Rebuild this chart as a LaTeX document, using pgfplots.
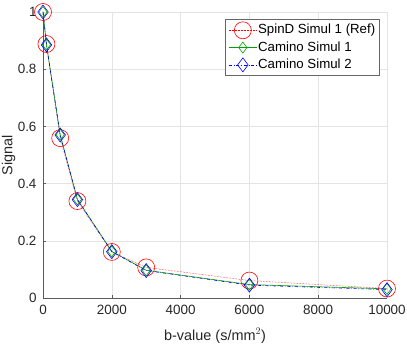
\documentclass[border=0pt]{standalone}
\usepackage{fontspec}
\setmainfont{Liberation Sans}
\usepackage{pgfplots}
\pgfplotsset{compat=1.18}
\definecolor{axgray}{RGB}{90,90,90}
\definecolor{gridgray}{RGB}{228,228,228}
\definecolor{mred}{RGB}{255,0,0}
\definecolor{mgreen}{RGB}{0,160,0}
\definecolor{mblue}{RGB}{0,0,255}
\begin{document}
\begin{tikzpicture}[x=1bp,y=1bp]
\begin{axis}[
  at={(0bp,0bp)}, anchor=origin,
  scale only axis,
  width=344bp, height=286bp,
  xmin=0, xmax=10000, ymin=0, ymax=1,
  xtick={0,2000,4000,6000,8000,10000},
  ytick={0,0.2,0.4,0.6,0.8,1},
  scaled x ticks=false,
  /pgf/number format/1000 sep={},
  /pgf/number format/assume math mode=true,
  axis lines*=left,
  axis line style={axgray, line width=0.5pt},
  tick style={axgray, line width=0.5pt},
  tick align=inside,
  major tick length=3bp,
  grid=major,
  major grid style={gridgray, line width=0.5pt},
  tick label style={font=\fontsize{13.5}{15}\selectfont, text=black!85},
  xticklabel style={yshift=-4bp},
  yticklabel style={xshift=-3bp},
  label style={font=\fontsize{14.5}{16}\selectfont, text=black!85},
  xlabel={b-value (s/mm$^2$)},
  ylabel={Signal},
  xlabel style={at={(axis description cs:0.5,0)}, anchor=base, yshift=-42bp},
  ylabel style={at={(axis description cs:-0.0887,0.5)}, anchor=base},
  legend style={at={(0.978,0.974)}, anchor=north east, draw=black!60,
    font=\fontsize{13.3}{15}\selectfont, inner xsep=3bp, inner ysep=2bp,
    row sep=0bp,
    nodes={inner xsep=1bp, inner ysep=2.15bp, text height=10bp, text depth=3bp}},
  legend cell align=left,
  legend image code/.code={\draw[mark repeat=2,mark phase=2,#1]
    plot coordinates {(0bp,0bp) (14bp,0bp) (28bp,0bp)};},
  clip=false,
]
\draw[gridgray, line width=0.5pt] (axis cs:0,1) -- (axis cs:10000,1) -- (axis cs:10000,0);
\addplot[mred, densely dotted, line width=0.5pt, mark=o, mark size=8.5bp,
  mark options={solid, line width=0.6pt}] coordinates {
  (0,1.0) (100,0.888) (500,0.559) (1000,0.339) (2000,0.161) (3000,0.107) (6000,0.061) (10000,0.033)};
\addplot[mgreen, solid, line width=0.6pt, mark=diamond, mark size=5.5bp,
  mark options={solid, line width=0.6pt}] coordinates {
  (0,1.0) (100,0.886) (500,0.571) (1000,0.345) (2000,0.163) (3000,0.097) (6000,0.047) (10000,0.032)};
\addplot[mblue, dash dot, line width=0.6pt, mark=diamond, mark size=7bp,
  mark options={solid, line width=0.6pt}] coordinates {
  (0,1.0) (100,0.885) (500,0.570) (1000,0.344) (2000,0.162) (3000,0.096) (6000,0.045) (10000,0.029)};
\legend{SpinD Simul 1 (Ref), Camino Simul 1, Camino Simul 2}
\end{axis}
\pgfresetboundingbox
\path[use as bounding box] (-43bp,-47bp) rectangle (364bp,298bp);
\end{tikzpicture}
\end{document}
